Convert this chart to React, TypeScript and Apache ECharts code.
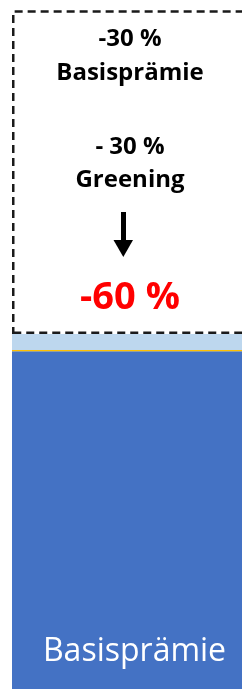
import React, { useEffect, useRef } from "react";
import * as echarts from "echarts";

const categories = ["Prämie"];
const basisValues = [100];
const umverteilungValues = [0.4];
const greeningValues = [4.7];
const kuerzungValues = [95.9];
const yMax = 204;

const annotationTexts = ["-30 %", "Basisprämie", "- 30 %", "Greening"];
const annotationY = [36, 70, 144, 177];
const totalText = "-60 %";
const barLabel = "Basisprämie";

const FONT = "'Open Sans', 'Noto Sans', sans-serif";

export default function App() {
  const ref = useRef<HTMLDivElement>(null);
  useEffect(() => {
    if (!ref.current) return;
    const chart = echarts.init(ref.current, undefined, { renderer: "svg" });
    const graphic: any[] = annotationTexts.map((t, i) => ({
      type: "text",
      x: 130,
      y: annotationY[i],
      style: {
        text: t,
        fill: "#000",
        font: `bold 24px ${FONT}`,
        textAlign: "center",
        textVerticalAlign: "middle",
      },
    }));
    graphic.push({
      type: "rect",
      shape: { x: 121, y: 212, width: 5, height: 29 },
      style: { fill: "#000" },
    });
    graphic.push({
      type: "polygon",
      shape: { points: [[113.5, 240], [133, 240], [123.3, 257]] },
      style: { fill: "#000" },
    });
    graphic.push({
      type: "text",
      x: 130,
      y: 294,
      style: {
        text: totalText,
        fill: "#FF0000",
        font: `bold 38px ${FONT}`,
        textAlign: "center",
        textVerticalAlign: "middle",
      },
    });
    chart.setOption({
      animation: false,
      grid: { left: 12, right: 0, top: 0, bottom: 0 },
      xAxis: { type: "category", data: categories, show: false },
      yAxis: { type: "value", min: 0, max: yMax, show: false },
      graphic,
      series: [
        {
          name: "Basisprämie",
          type: "bar",
          stack: "s",
          barWidth: "100%",
          data: basisValues,
          itemStyle: { color: "#4472C4" },
          label: {
            show: true,
            position: "insideBottom",
            distance: 25,
            offset: [-31.5, 0],
            formatter: barLabel,
            color: "#fff",
            fontFamily: FONT,
            fontSize: 32,
          },
        },
        {
          name: "Umverteilung",
          type: "bar",
          stack: "s",
          data: umverteilungValues,
          itemStyle: { color: "#FFC000" },
        },
        {
          name: "Greening",
          type: "bar",
          stack: "s",
          data: greeningValues,
          itemStyle: { color: "#BDD7EE" },
        },
        {
          name: "Kürzung",
          type: "bar",
          stack: "s",
          data: kuerzungValues,
          itemStyle: {
            color: "rgba(0,0,0,0)",
            borderColor: "#1a1a1a",
            borderWidth: 2.5,
            borderType: [8, 5],
          },
        },
      ],
    });
    return () => chart.dispose();
  }, []);
  return (
    <div
      style={{
        position: "fixed",
        left: 0,
        top: 0,
        width: 242,
        height: 689,
        overflow: "hidden",
      }}
    >
      <div ref={ref} style={{ width: 320, height: 689 }} />
    </div>
  );
}
